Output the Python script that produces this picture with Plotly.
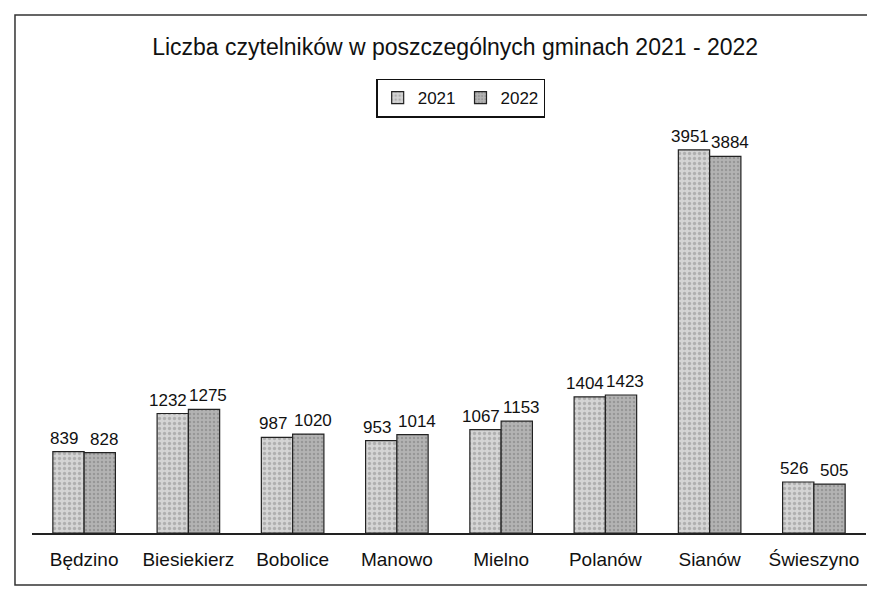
import plotly.graph_objects as go

# gminy i liczba czytelników
gminy = ["Będzino", "Biesiekierz", "Bobolice", "Manowo", "Mielno", "Polanów", "Sianów", "Świeszyno"]
rok_2021 = [839, 1232, 987, 953, 1067, 1404, 3951, 526]
rok_2022 = [828, 1275, 1020, 1014, 1153, 1423, 3884, 505]

font = "Liberation Sans, Arial, sans-serif"

fig = go.Figure()
fig.add_trace(go.Bar(
    x=gminy, y=rok_2021, name="2021",
    marker=dict(color="#cfcfcf", line=dict(color="#222", width=1.2),
                pattern=dict(shape=".", fgcolor="#8a8a8a", bgcolor="#d4d4d4", size=5, solidity=0.35)),
))
fig.add_trace(go.Bar(
    x=gminy, y=rok_2022, name="2022",
    marker=dict(color="#aaaaaa", line=dict(color="#222", width=1.2),
                pattern=dict(shape=".", fgcolor="#7a7a7a", bgcolor="#b3b3b3", size=4, solidity=0.3)),
))

# etykiety wartości nad słupkami (przesunięte na zewnątrz pary, jak w oryginale)
for g, a, b in zip(gminy, rok_2021, rok_2022):
    fig.add_annotation(x=g, y=a, text=str(a), showarrow=False, xshift=-20, yshift=2,
                       yanchor="bottom", font=dict(size=17, color="#111"))
    fig.add_annotation(x=g, y=b, text=str(b), showarrow=False, xshift=20, yshift=2,
                       yanchor="bottom", font=dict(size=17, color="#111"))

fig.update_layout(
    width=875, height=590,
    margin=dict(l=24, r=17, t=108, b=65),
    paper_bgcolor="white", plot_bgcolor="white",
    font=dict(family=font, size=18, color="#111"),
    barmode="group", bargap=0.4, bargroupgap=0,
    title=dict(text="Liczba czytelników w poszczególnych gminach 2021 - 2022",
               x=0.511, xanchor="center", y=0.934, yanchor="middle",
               font=dict(size=23, color="#111")),
    legend=dict(orientation="h", x=0.514, xanchor="center", y=1.043, yanchor="middle",
                bordercolor="#111", borderwidth=1.5, bgcolor="white",
                font=dict(size=17), itemwidth=30),
    xaxis=dict(showline=True, linecolor="#222", linewidth=1.5, ticks="",
               tickfont=dict(size=19), ticklabelstandoff=8),
    yaxis=dict(range=[0, 4300], visible=False, showgrid=False),
    showlegend=True,
)

# ramka wykresu
fig.add_shape(type="rect", xref="paper", yref="paper",
              x0=-0.0204, x1=1.0024, y0=-0.1247, y1=1.242,
              line=dict(color="#333", width=1.5))

fig.write_html("out.html")
